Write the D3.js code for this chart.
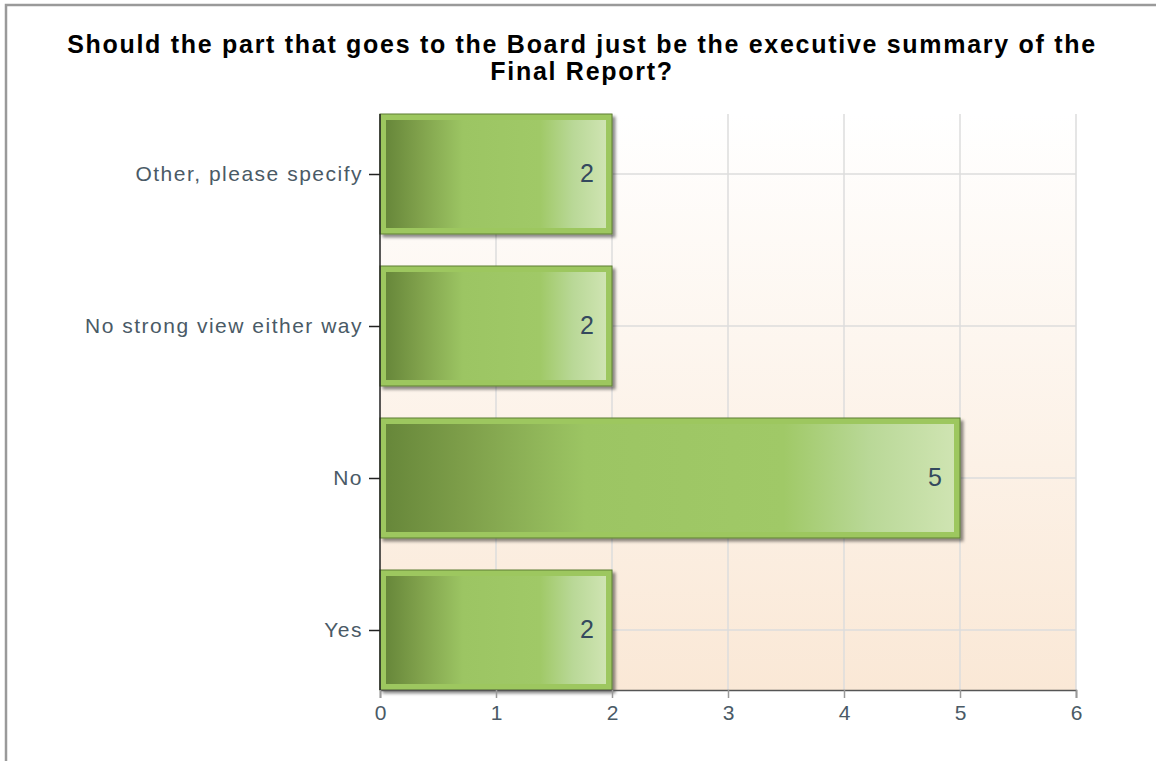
<!DOCTYPE html>
<html>
<head>
<meta charset="utf-8">
<script src="https://cdn.jsdelivr.net/npm/d3@7/dist/d3.min.js"></script>
<style>
  html, body { margin: 0; padding: 0; background: #fff; }
  svg { display: block; }
</style>
</head>
<body>
<svg id="chart" width="1156" height="761"></svg>
<script>
const categories = ["Other, please specify", "No strong view either way", "No", "Yes"];
const values = [2, 2, 5, 2];
const xTicks = [0, 1, 2, 3, 4, 5, 6];
const titleLines = ["Should the part that goes to the Board just be the executive summary of the", "Final Report?"];

(function () {
const svg = d3.select("#chart");
const W = 1156, H = 761;
const pLeft = 380, pRight = 1076, pTop = 114, pBottom = 690;
const barH = 120;
const FONT = "Liberation Sans, Arial, sans-serif";

const defs = svg.append("defs");
const bg = defs.append("linearGradient").attr("id", "bg").attr("x1", 0).attr("y1", 0).attr("x2", 0).attr("y2", 1);
bg.append("stop").attr("offset", 0).attr("stop-color", "#ffffff");
bg.append("stop").attr("offset", 1).attr("stop-color", "#fae8d6");

const bar = defs.append("linearGradient").attr("id", "bar").attr("x1", 0).attr("y1", 0).attr("x2", 1).attr("y2", 0);
[[0, "#67873a"], [0.14, "#7e9f4a"], [0.35, "#9cc563"], [0.7, "#a0c967"], [0.85, "#b9d897"], [1, "#cfe4b2"]]
  .forEach(([o, c]) => bar.append("stop").attr("offset", o).attr("stop-color", c));

const shadow = defs.append("filter").attr("id", "shadow").attr("x", "-10%").attr("y", "-10%").attr("width", "130%").attr("height", "130%");
shadow.append("feDropShadow").attr("dx", 3).attr("dy", 3).attr("stdDeviation", 1.5).attr("flood-color", "#000").attr("flood-opacity", 0.45);

// frame
svg.append("rect").attr("x", 6).attr("y", 5).attr("width", W).attr("height", H)
  .attr("fill", "none").attr("stroke", "#9a9a9a").attr("stroke-width", 2.5);

// title
const tl = svg.append("g").selectAll("text").data(titleLines).join("text")
  .attr("x", 582).attr("y", (d, i) => 53 + i * 27)
  .attr("text-anchor", "middle")
  .attr("font-family", FONT)
  .attr("font-weight", "bold").attr("font-size", 25).attr("fill", "#000")
  .text(d => d);
const natural = tl.nodes()[0].getComputedTextLength();
const ls = Math.max(0, (1028 - natural) / (titleLines[0].length - 1));
tl.attr("letter-spacing", ls);

const x = d3.scaleLinear().domain([0, 6]).range([pLeft, pRight]);
const y = d3.scalePoint().domain(categories).range([pTop + barH / 2, pBottom - barH / 2]);

// plot background
svg.append("rect").attr("x", pLeft).attr("y", pTop).attr("width", pRight - pLeft).attr("height", pBottom - pTop)
  .attr("fill", "url(#bg)");

// gridlines
svg.append("g").selectAll("line").data(xTicks.slice(1)).join("line")
  .attr("x1", d => x(d)).attr("x2", d => x(d)).attr("y1", pTop).attr("y2", pBottom)
  .attr("stroke", "#dcdcdc").attr("stroke-width", 1.5);
svg.append("g").selectAll("line").data(categories).join("line")
  .attr("x1", pLeft).attr("x2", pRight).attr("y1", d => y(d)).attr("y2", d => y(d))
  .attr("stroke", "#dcdcdc").attr("stroke-width", 1.5);

// bars
const bars = svg.append("g").selectAll("g").data(categories).join("g");
bars.append("rect")
  .attr("x", x(0)).attr("y", d => y(d) - barH / 2)
  .attr("width", (d, i) => x(values[i]) - x(0)).attr("height", barH)
  .attr("fill", "#9dc75e").attr("stroke", "#5f7f33").attr("stroke-width", 1)
  .attr("filter", "url(#shadow)");
bars.append("rect")
  .attr("x", x(0) + 6).attr("y", d => y(d) - barH / 2 + 6)
  .attr("width", (d, i) => x(values[i]) - x(0) - 12).attr("height", barH - 12)
  .attr("fill", "url(#bar)");
bars.append("text")
  .attr("x", (d, i) => x(values[i]) - 18).attr("y", d => y(d) + 8)
  .attr("text-anchor", "end")
  .attr("font-family", FONT)
  .attr("font-size", 25).attr("fill", "#34495e")
  .text((d, i) => values[i]);

// axes
const xAxis = svg.append("g").attr("transform", `translate(0,${pBottom})`)
  .call(d3.axisBottom(x).tickValues(xTicks).tickSize(8).tickFormat(d3.format("d")));
xAxis.select(".domain").attr("stroke", "#555").attr("stroke-width", 1.5);
xAxis.selectAll(".tick line").attr("stroke", "#999").attr("stroke-width", 1.5);
xAxis.selectAll("text").attr("y", 30).attr("dy", 0)
  .attr("font-family", FONT).attr("font-size", 21).attr("fill", "#4a5a66");

const yAxis = svg.append("g").attr("transform", `translate(${pLeft},0)`)
  .call(d3.axisLeft(y).tickSize(11).tickPadding(6));
yAxis.select(".domain").attr("d", `M0,${pTop}V${pBottom}`).attr("stroke", "#222").attr("stroke-width", 1.5);
yAxis.selectAll(".tick line").attr("stroke", "#222").attr("stroke-width", 1.5);
yAxis.selectAll("text").attr("font-family", FONT).attr("font-size", 21)
  .attr("letter-spacing", 1.5).attr("fill", "#4a5a66");
})();
</script>
</body>
</html>
